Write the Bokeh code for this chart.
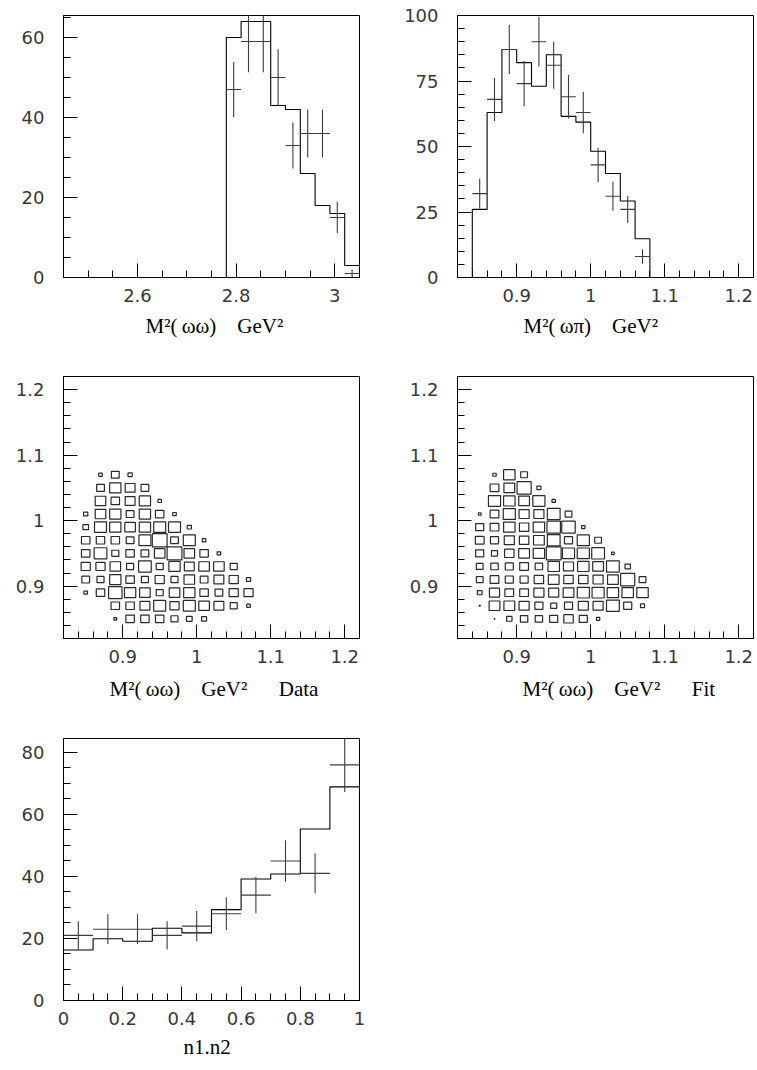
import numpy as np
from bokeh.plotting import figure
from bokeh.models import Range1d, FixedTicker, PrintfTickFormatter, Title
from bokeh.layouts import column, row
from bokeh.embed import file_html
from bokeh.resources import INLINE

# ---------------- data ----------------
# M^2(omega omega) projection: bins of 0.03 GeV^2 starting at 2.78
ww_lo, ww_bin = 2.78, 0.03
ww_data = [47, 59, 59, 50, 33, 36, 36, 15, 1]
ww_fit = [60, 64, 64, 43, 42, 26, 18, 16, 3]

# M^2(omega pi) projection: bins of 0.02 GeV^2 starting at 0.84
wp_lo, wp_bin = 0.84, 0.02
wp_data = [32, 68, 87, 74, 90, 81, 69, 63, 43, 31, 26, 8]
wp_fit = [26, 63, 87, 82, 73, 85, 61.5, 59.3, 48.2, 39.7, 29.2, 14.8]

# n1.n2 distribution: bins of 0.1
nn_lo, nn_bin = 0.0, 0.1
nn_data = [21, 23, 23, 21, 24, 28, 34, 45, 41, 76]
nn_fit = [16.3, 19.9, 19.1, 23.3, 21.8, 29.3, 39.2, 40.8, 55.3, 68.9]

# Dalitz plot cells (0.02 x 0.02), columns at x = 0.85 ... 1.07
dal_x = [0.85, 0.87, 0.89, 0.91, 0.93, 0.95, 0.97, 0.99, 1.01, 1.03, 1.05, 1.07]
# rows from y = 1.07 (top) down to y = 0.85
dal_y = [1.07, 1.05, 1.03, 1.01, 0.99, 0.97, 0.95, 0.93, 0.91, 0.89, 0.87, 0.85]
dal_data = [
    [0, 5, 11, 6, 0, 0, 0, 0, 0, 0, 0, 0],
    [0, 11, 16, 14, 11, 0, 0, 0, 0, 0, 0, 0],
    [0, 15, 12, 14, 16, 5, 0, 0, 0, 0, 0, 0],
    [6, 15, 16, 11, 16, 12, 5, 0, 0, 0, 0, 0],
    [8, 17, 16, 15, 16, 17, 17, 6, 0, 0, 0, 0],
    [12, 12, 12, 11, 17, 21, 11, 17, 5, 0, 0, 0],
    [12, 18, 10, 12, 11, 15, 21, 15, 12, 5, 0, 0],
    [13, 13, 15, 10, 18, 10, 16, 14, 15, 15, 10, 0],
    [11, 10, 16, 12, 10, 13, 10, 15, 11, 14, 13, 6],
    [5, 12, 19, 16, 15, 10, 15, 16, 12, 11, 13, 13],
    [0, 0, 12, 12, 14, 17, 13, 17, 15, 14, 10, 5],
    [0, 0, 4, 12, 12, 12, 10, 8, 7, 0, 0, 0],
]
dal_fit = [
    [0, 5, 17, 10, 0, 0, 0, 0, 0, 0, 0, 0],
    [0, 13, 16, 21, 6, 0, 0, 0, 0, 0, 0, 0],
    [0, 18, 17, 16, 18, 5, 0, 0, 0, 0, 0, 0],
    [4, 13, 18, 15, 15, 19, 10, 0, 0, 0, 0, 0],
    [12, 13, 17, 14, 17, 20, 20, 5, 0, 0, 0, 0],
    [13, 12, 15, 14, 16, 19, 12, 18, 10, 0, 0, 0],
    [12, 9, 14, 16, 17, 22, 18, 18, 19, 4, 0, 0],
    [10, 11, 12, 13, 11, 17, 15, 17, 16, 19, 8, 0],
    [10, 13, 12, 12, 14, 16, 14, 14, 15, 16, 21, 10],
    [7, 15, 13, 13, 15, 15, 16, 18, 18, 17, 17, 17],
    [1.5, 16, 16, 15, 12, 9, 12, 15, 15, 19, 12, 6],
    [0, 1, 8, 11, 11, 12, 14, 12, 5, 0, 0, 0],
]
dal_cell = 0.02

# ---------------- styling helpers ----------------
LABEL_FONT = "DejaVu Sans"
TITLE_FONT = "Liberation Serif"
INK = "black"
CROSS = "#3c3c3c"
SP = "\u00a0"


def ticks(start, stop, step):
    n = int(round((stop - start) / step))
    return [round(start + i * step, 6) for i in range(n + 1)]


def make_fig(w, h, xr, yr, left, right, top, bottom):
    p = figure(width=w, height=h, x_range=Range1d(*xr), y_range=Range1d(*yr),
               output_backend="svg", toolbar_location=None,
               min_border_left=left, min_border_right=right,
               min_border_top=top, min_border_bottom=bottom)
    p.grid.visible = False
    p.outline_line_color = INK
    p.outline_line_width = 1
    p.outline_line_alpha = 1
    p.background_fill_color = "white"
    p.border_fill_color = "white"
    return p


def style_axis(ax, major, minor, standoff):
    ax.ticker = FixedTicker(ticks=major, minor_ticks=minor)
    ax.formatter = PrintfTickFormatter(format="%.3g")
    ax.axis_line_color = INK
    ax.major_tick_in = 14
    ax.major_tick_out = 0
    ax.minor_tick_in = 7
    ax.minor_tick_out = 0
    ax.major_tick_line_color = INK
    ax.minor_tick_line_color = INK
    ax.major_label_text_font = LABEL_FONT
    ax.major_label_text_font_size = "18px"
    ax.major_label_text_color = "#383838"
    ax.major_label_standoff = standoff


def add_title(p, text, offset, standoff):
    # left-aligned so the horizontal offset from the frame edge is honoured
    p.add_layout(Title(text=text, align="left", offset=offset, standoff=standoff,
                       text_font=TITLE_FONT, text_font_size="21px",
                       text_font_style="normal", text_color="black"), "below")


def draw_hist(p, lo, width, fit, data):
    fit = np.asarray(fit, dtype=float)
    edges = lo + width * np.arange(len(fit) + 1)
    xs = np.repeat(edges, 2)
    ys = np.concatenate([[0.0], np.repeat(fit, 2), [0.0]])
    p.line(xs, ys, line_color=INK, line_width=1.1)

    data = np.asarray(data, dtype=float)
    centers = lo + width * (np.arange(len(data)) + 0.5)
    err = np.sqrt(data)
    p.segment(x0=centers - width / 2, x1=centers + width / 2, y0=data, y1=data,
              line_color=CROSS, line_width=1.1)
    p.segment(x0=centers, x1=centers, y0=data - err, y1=data + err,
              line_color=CROSS, line_width=1.1)


def draw_boxes(p, grid):
    g = np.asarray(grid, dtype=float)
    zmax = g.max()
    xs, ys, ws, hs = [], [], [], []
    for j, yc in enumerate(dal_y):
        for i, xc in enumerate(dal_x):
            z = g[j, i]
            if z <= 0:
                continue
            xs.append(xc)
            ys.append(yc)
            ws.append(dal_cell * z / zmax)
            hs.append(dal_cell * z / zmax)
    p.rect(x=xs, y=ys, width=ws, height=hs, fill_color=None,
           line_color="#2a2a2a", line_width=1.2)


WW = "M\u00b2(\u2009\u03c9\u03c9)" + SP * 4 + "GeV\u00b2"
WP = "M\u00b2(\u2009\u03c9\u03c0)" + SP * 4 + "GeV\u00b2"

# ---------------- panel 1: M^2(omega omega) ----------------
p1 = make_fig(394, 361, (2.45, 3.05), (0, 65.5), 63, 35, 15, 84)
style_axis(p1.xaxis[0], [2.6, 2.8, 3.0], ticks(2.5, 3.05, 0.05), 11)
style_axis(p1.yaxis[0], ticks(0, 60, 20), ticks(0, 65, 5), 19)
draw_hist(p1, ww_lo, ww_bin, ww_fit, ww_data)
add_title(p1, WW, 82, 14)

# ---------------- panel 2: M^2(omega pi) ----------------
p2 = make_fig(363, 361, (0.82, 1.22), (0, 100), 63, 4, 15, 84)
style_axis(p2.xaxis[0], [0.9, 1.0, 1.1, 1.2], ticks(0.82, 1.22, 0.02), 11)
style_axis(p2.yaxis[0], ticks(0, 100, 25), ticks(0, 100, 5), 19)
draw_hist(p2, wp_lo, wp_bin, wp_fit, wp_data)
add_title(p2, WP, 66, 14)

# ---------------- panel 3: Dalitz plot, data ----------------
p3 = make_fig(394, 361, (0.82, 1.22), (0.82, 1.22), 63, 35, 15, 84)
style_axis(p3.xaxis[0], [0.9, 1.0, 1.1, 1.2], ticks(0.82, 1.22, 0.02), 11)
style_axis(p3.yaxis[0], [0.9, 1.0, 1.1, 1.2], ticks(0.82, 1.22, 0.02), 19)
draw_boxes(p3, dal_data)
add_title(p3, WW + SP * 6 + "Data", 46, 18)

# ---------------- panel 4: Dalitz plot, fit ----------------
p4 = make_fig(363, 361, (0.82, 1.22), (0.82, 1.22), 63, 4, 15, 84)
style_axis(p4.xaxis[0], [0.9, 1.0, 1.1, 1.2], ticks(0.82, 1.22, 0.02), 11)
style_axis(p4.yaxis[0], [0.9, 1.0, 1.1, 1.2], ticks(0.82, 1.22, 0.02), 19)
draw_boxes(p4, dal_fit)
add_title(p4, WW + SP * 6 + "Fit", 65, 18)

# ---------------- panel 5: n1.n2 ----------------
p5 = make_fig(394, 348, (0.0, 1.0), (0, 84.5), 63, 35, 16, 70)
style_axis(p5.xaxis[0], ticks(0, 1, 0.2), ticks(0, 1, 0.05), 11)
style_axis(p5.yaxis[0], ticks(0, 80, 20), ticks(0, 80, 5), 19)
draw_hist(p5, nn_lo, nn_bin, nn_fit, nn_data)
add_title(p5, "n1.n2", 120, 11)

layout = column(row(p1, p2), row(p3, p4), row(p5))
open("out.html", "w").write(file_html(layout, INLINE))
